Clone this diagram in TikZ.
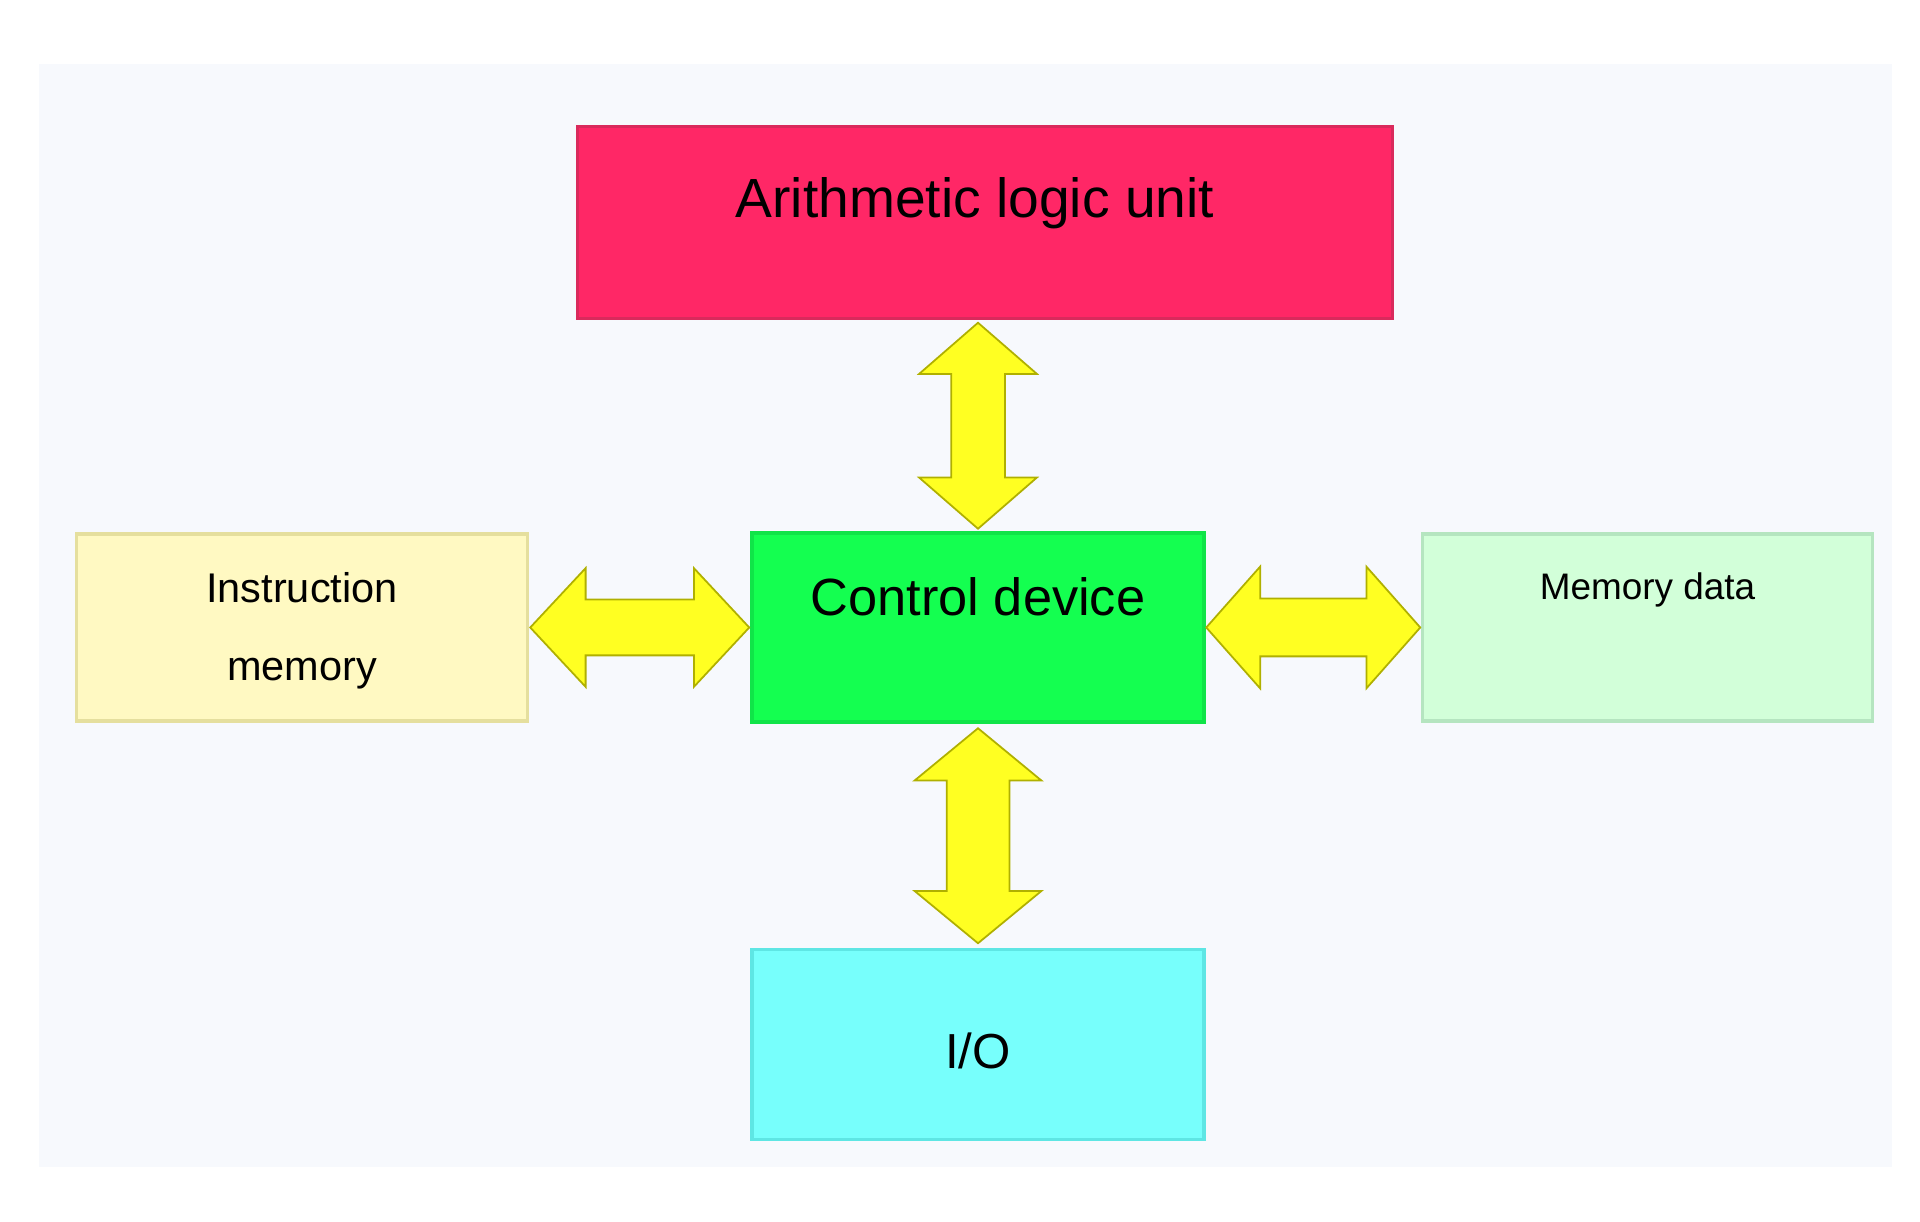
\documentclass[tikz,border=0pt]{standalone}
\usepackage{fontspec}
\setmainfont{Liberation Sans}
\usepackage{xcolor}
\usetikzlibrary{shapes.arrows, positioning, calc}

\definecolor{panelbg}{HTML}{F7F9FD}
\definecolor{alufill}{HTML}{FF2766}
\definecolor{aluedge}{HTML}{D92A5C}
\definecolor{ctrlfill}{HTML}{14FF50}
\definecolor{ctrledge}{HTML}{10E448}
\definecolor{imfill}{HTML}{FFF9C2}
\definecolor{imedge}{HTML}{E5DF9E}
\definecolor{mdfill}{HTML}{D2FFD9}
\definecolor{mdedge}{HTML}{B5E5C0}
\definecolor{iofill}{HTML}{77FFFC}
\definecolor{ioedge}{HTML}{5EE6E4}
\definecolor{arrowfill}{HTML}{FFFF22}
\definecolor{arrowedge}{HTML}{B0B000}

\begin{document}
\begin{tikzpicture}[
    unitbox/.style={
        rectangle,
        inner sep=0pt,
        line width=1pt,
        minimum width=4.52cm,
        text centered
    },
    blockarrow/.style={
        double arrow,
        inner sep=0pt,
        double arrow head extend=0.32cm,
        fill=arrowfill,
        draw=arrowedge,
        line width=0.5pt
    }
]

\useasboundingbox (0,0) rectangle (19.2,-12.22);
\fill[white] (0,0) rectangle (19.2,-12.22);
\fill[panelbg] (0.39,-0.64) rectangle (18.92,-11.67);

\node (ctrl) [unitbox, fill=ctrlfill, draw=ctrledge,
    text height=0.83cm, text depth=1.06cm,
    font=\fontsize{14.9}{18}\selectfont] at (9.78,-6.275)
    {Control device};

\node (alu) [unitbox, fill=alufill, draw=aluedge, minimum width=8.15cm,
    text height=0.91cm, text depth=1.01cm,
    font=\fontsize{15.7}{19}\selectfont, above=2.11cm of ctrl, xshift=0.07cm]
    {Arithmetic logic unit\hspace*{0.2cm}};

\node (im) [unitbox, fill=imfill, draw=imedge, minimum width=4.51cm,
    align=center, text height=1.47cm, text depth=0.40cm,
    font=\fontsize{11.8}{22.4}\selectfont, left=2.21cm of ctrl]
    {Instruction\\memory};

\node (md) [unitbox, fill=mdfill, draw=mdedge, minimum width=4.50cm,
    text height=0.66cm, text depth=1.21cm,
    font=\fontsize{10.5}{13}\selectfont, right=2.15cm of ctrl]
    {Memory data};

\node (io) [unitbox, fill=iofill, draw=ioedge,
    text height=1.19cm, text depth=0.71cm,
    font=\fontsize{14}{17}\selectfont, below=2.24cm of ctrl]
    {I/O};

% Arrows
\node (aluarrow) [blockarrow, rotate=90, minimum height=2.06cm,
    inner ysep=0.26cm, double arrow tip angle=98]
    at ($(ctrl.north)!0.5!(ctrl.north |- alu.south)$) {};
\node (ioarrow) [blockarrow, rotate=90, minimum height=2.15cm,
    inner ysep=0.305cm, double arrow tip angle=101]
    at ($(ctrl.south)!0.5!(io.north)$) {};
\node (imarrow) [blockarrow, minimum height=2.19cm,
    inner ysep=0.27cm, double arrow head extend=0.315cm,
    double arrow tip angle=94]
    at ($(im.east)!0.5!(ctrl.west)$) {};
\node (mdarrow) [blockarrow, minimum height=2.14cm,
    inner ysep=0.28cm, double arrow tip angle=97]
    at ($(ctrl.east)!0.5!(md.west)$) {};

\end{tikzpicture}
\end{document}
